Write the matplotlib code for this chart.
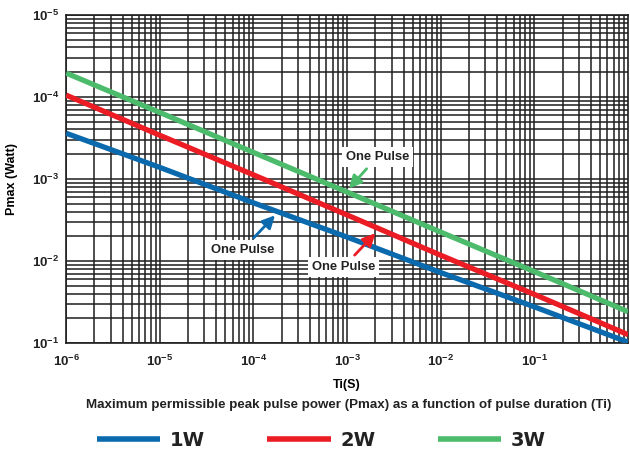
import matplotlib
matplotlib.use('Agg')
import matplotlib.pyplot as plt
from matplotlib.ticker import LogLocator, NullFormatter

# pulse duration (s) and peak power readings at each decade
ti = [1e-6, 1e-5, 1e-4, 1e-3, 1e-2, 1e-1, 1e0]
p_1w = [3600, 1380, 510, 195, 72, 27.5, 10.2]
p_2w = [10500, 3400, 1120, 363, 117, 39, 12.6]
p_3w = [19500, 6450, 2100, 690, 224, 74, 24]

x_ticks = [1e-6, 1e-5, 1e-4, 1e-3, 1e-2, 1e-1]
x_tick_labels = ['10^{-6}', '10^{-5}', '10^{-4}', '10^{-3}', '10^{-2}', '10^{-1}']
y_ticks = [1e1, 1e2, 1e3, 1e4, 1e5]
y_tick_labels = ['10^{-1}', '10^{-2}', '10^{-3}', '10^{-4}', '10^{-5}']

plt.rcParams['font.family'] = ['Liberation Sans', 'DejaVu Sans']
plt.rcParams['mathtext.fontset'] = 'custom'
plt.rcParams['mathtext.bf'] = 'Liberation Sans:bold'
plt.rcParams['mathtext.rm'] = 'Liberation Sans'

fig = plt.figure(figsize=(6.3, 4.5), dpi=100)
ax = fig.add_axes([0.105, 0.238, 0.892, 0.729])

blue, red, green = '#0a6aad', '#ec1c24', '#4cbb6c'
l1, = ax.plot(ti, p_1w, color=blue, lw=3.8, solid_capstyle='butt', zorder=3)
l2, = ax.plot(ti, p_2w, color=red, lw=3.8, solid_capstyle='butt', zorder=3)
l3, = ax.plot(ti, p_3w, color=green, lw=3.8, solid_capstyle='butt', zorder=3)

ax.set_xscale('log')
ax.set_yscale('log')
ax.set_xlim(1e-6, 1e0)
ax.set_ylim(1e1, 1e5)

ax.xaxis.set_minor_locator(LogLocator(base=10, subs=range(2, 10)))
ax.yaxis.set_minor_locator(LogLocator(base=10, subs=range(2, 10)))
ax.xaxis.set_minor_formatter(NullFormatter())
ax.yaxis.set_minor_formatter(NullFormatter())
ax.set_xticks(x_ticks)
ax.set_xticklabels(['$\\mathbf{%s}$' % s for s in x_tick_labels])
ax.set_yticks(y_ticks)
ax.set_yticklabels(['$\\mathbf{%s}$' % s for s in y_tick_labels])
ax.tick_params(which='both', length=0, labelsize=9.5, colors='#222222')
ax.tick_params(axis='x', pad=8)
ax.tick_params(axis='y', pad=5)

ax.grid(which='both', color='#1e1e1e', lw=1.1)
for s in ax.spines.values():
    s.set_color('#1e1e1e')
    s.set_linewidth(1.2)

ax.set_ylabel('Pmax (Watt)', fontsize=9, fontweight='bold', labelpad=10)
ax.set_xlabel('Ti(S)', fontsize=9, fontweight='bold', labelpad=7)
fig.text(0.554, 0.1, 'Maximum permissible peak pulse power (Pmax) as a function of pulse duration (Ti)',
         ha='center', va='center', fontsize=9.6, fontweight='bold', color='#222222')

box = dict(boxstyle='square,pad=0.3', fc='white', ec='none')
arrow = '-|>,head_length=0.8,head_width=0.4'
ax.annotate('One Pulse', xy=(1.0e-3, 720), xytext=(2.1e-3, 1860), ha='center', va='center',
            fontsize=9.4, fontweight='bold', color='#222222', bbox=box, zorder=5,
            arrowprops=dict(arrowstyle=arrow, color=green, lw=2))
ax.annotate('One Pulse', xy=(1.78e-4, 380), xytext=(7.6e-5, 136), ha='center', va='center',
            fontsize=9.4, fontweight='bold', color='#222222', bbox=box, zorder=5,
            arrowprops=dict(arrowstyle=arrow, color=blue, lw=2))
ax.annotate('One Pulse', xy=(2.1e-3, 230), xytext=(9.1e-4, 84), ha='center', va='center',
            fontsize=9.4, fontweight='bold', color='#222222', bbox=box, zorder=5,
            arrowprops=dict(arrowstyle=arrow, color=red, lw=2))

leg = fig.legend([l1, l2, l3], ['1W', '2W', '3W'], loc='center', bbox_to_anchor=(0.51, 0.022),
                 ncol=3, frameon=False, handlelength=3.25, columnspacing=3.2, handletextpad=0.5,
                 borderpad=0, prop={'family': 'DejaVu Sans', 'size': 14, 'weight': 'bold'})
for h in leg.legend_handles:
    h.set_linewidth(4)
for t in leg.get_texts():
    t.set_color('#222222')

fig.savefig('out.png', dpi=100)
